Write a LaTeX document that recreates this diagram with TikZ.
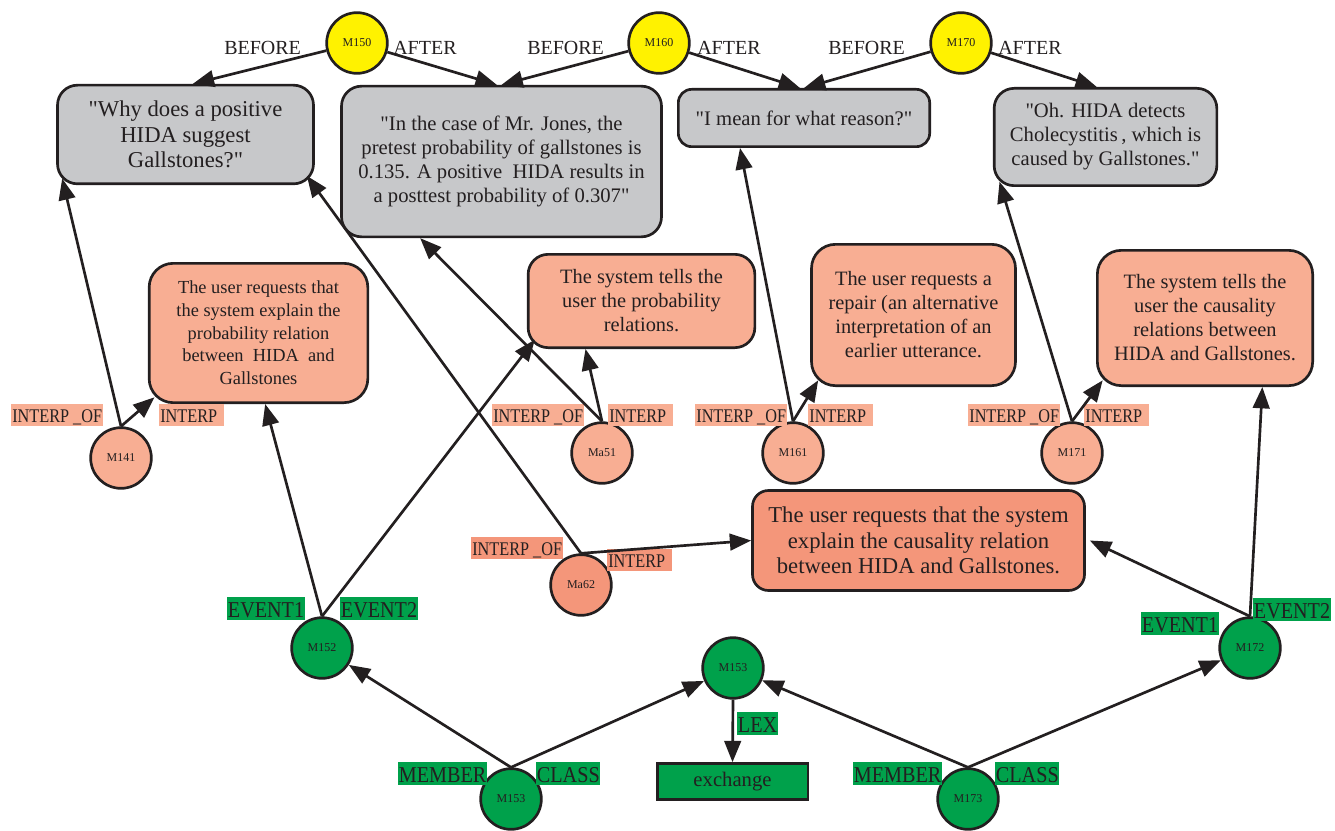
\documentclass[tikz,border=0pt]{standalone}
\usepackage{fontspec}
\setmainfont{Liberation Serif}
\newfontfamily\plainserif{Liberation Serif}
\newfontfamily\lblfont[FakeStretch=0.84]{Liberation Serif}
\newfontfamily\grnfont[FakeStretch=0.89]{Liberation Serif}
\usetikzlibrary{arrows.meta}
\definecolor{ink}{HTML}{231F20}
\definecolor{ygold}{HTML}{FFF200}
\definecolor{gbox}{HTML}{C7C8CA}
\definecolor{salmon}{HTML}{F8AE93}
\definecolor{dsalmon}{HTML}{F4967A}
\definecolor{grn}{HTML}{00A14B}
\begin{document}
\begin{tikzpicture}[x=0.75pt,y=-0.75pt,
  every node/.style={text=ink},
  box/.style={draw=ink, line width=2pt, rounded corners=15pt, align=center, inner sep=0pt},
  qbox/.style={box, fill=gbox, font=\plainserif\fontsize{15.5}{18}\selectfont},
  sbox/.style={box, fill=salmon, font=\fontsize{15.3}{18}\selectfont},
  circ/.style={circle, draw=ink, line width=2pt, minimum size=45.5pt, inner sep=0pt, font=\fontsize{9}{10}\selectfont},
  ycirc/.style={circ, fill=ygold},
  scirc/.style={circ, fill=salmon},
  dcirc/.style={circ, fill=dsalmon},
  gcirc/.style={circ, fill=grn},
  rel/.style={anchor=base west, inner sep=0pt, font=\fontsize{15}{18}\selectfont},
  ilab/.style={anchor=base west, fill=salmon, inner xsep=0.8pt, inner ysep=0pt, text height=13.5pt, text depth=3pt, font=\lblfont\fontsize{14.5}{16}\selectfont},
  dlab/.style={ilab, fill=dsalmon},
  glab/.style={anchor=base west, fill=grn, inner xsep=0.5pt, inner ysep=0pt, text height=15pt, text depth=2.3pt, font=\grnfont\fontsize{17}{19}\selectfont},
  arr/.style={draw=ink, line width=2pt, -{Triangle[length=16pt,width=12.5pt]}}
]
\fill[white] (0,0) rectangle (1335,831);
\useasboundingbox (0,0) rectangle (1335,831);

% gray utterance boxes
\node[qbox, font=\plainserif\fontsize{17}{19}\selectfont, minimum width=192pt, minimum height=74pt] (Q1) at (185.5,134.5)
  {"Why does a positive\\HIDA suggest\\Gallstones?"};
\node[qbox, minimum width=240pt, minimum height=113pt] (Q2) at (501.5,161.5)
  {"In the case of Mr. Jones, the\\pretest probability of gallstones is\\0.135. A positive~ HIDA results in\\a posttest probability of 0.307"};
\node[qbox, rounded corners=10pt, minimum width=188.5pt, minimum height=43pt] (Q3) at (804,118)
  {"I mean for what reason?"};
\node[qbox, minimum width=167pt, minimum height=73pt] (Q4) at (1105.5,137)
  {"Oh. HIDA detects\\Cholecystitis\,, which is\\caused by Gallstones."};

% salmon interpretation boxes
\node[sbox, rounded corners=18pt, font=\fontsize{13.8}{17}\selectfont, minimum width=164pt, minimum height=104.5pt] (A) at (258.5,333)
  {The user requests that\\the system explain the\\probability relation\\between~ HIDA~ and\\Gallstones};
\node[sbox, minimum width=170pt, minimum height=70pt] (B) at (641.5,301)
  {The system tells the\\user the probability\\relations.};
\node[sbox, rounded corners=18pt, minimum width=153pt, minimum height=106pt] (C) at (913.5,315)
  {The user requests a\\repair (an alternative\\interpretation of an\\earlier utterance.};
\node[sbox, rounded corners=18pt, minimum width=161.5pt, minimum height=101.5pt] (D) at (1205,318)
  {The system tells the\\user the causality\\relations between\\HIDA and Gallstones.};
\node[box, fill=dsalmon, rounded corners=12pt, font=\fontsize{17}{19}\selectfont, minimum width=249pt, minimum height=75pt] (E) at (918.5,540.5)
  {The user requests that the system\\explain the causality relation\\between HIDA and Gallstones.};

% lexical box
\node[draw=ink, line width=2pt, fill=grn, inner sep=0pt, minimum width=113pt, minimum height=27pt, font=\fontsize{15.5}{18}\selectfont] (X) at (732.5,781.5) {exchange};

% circles
\node[ycirc] (M150) at (357,43) {M150};
\node[ycirc] (M160) at (659,43) {M160};
\node[ycirc] (M170) at (961,43) {M170};
\node[scirc] (M141) at (121,458) {M141};
\node[scirc] (Ma51) at (602,453) {Ma51};
\node[scirc] (M161) at (793,453) {M161};
\node[scirc] (M171) at (1072,453) {M171};
\node[dcirc] (Ma62) at (581,585) {Ma62};
\node[gcirc] (M152) at (322,648) {M152};
\node[gcirc] (M153) at (733,668) {M153};
\node[gcirc] (M172) at (1250,648) {M172};
\node[gcirc] (M153b) at (511,799) {M153};
\node[gcirc] (M173) at (968,799) {M173};

% relation labels
\node[rel] (b1) at (224,55) {BEFORE};
\node[rel] (a1) at (393,55) {AFTER};
\node[rel] (b2) at (527,55) {BEFORE};
\node[rel] (a2) at (697,55) {AFTER};
\node[rel] (b3) at (828,55) {BEFORE};
\node[rel] (a3) at (998,55) {AFTER};

\node[ilab] (l1) at (11,422) {INTERP \_OF};
\node[ilab] (l2) at (159,422) {INTERP\kern4pt};
\node[ilab] (l3) at (492,422) {INTERP \_OF};
\node[ilab] (l4) at (608,422) {INTERP\kern4pt};
\node[ilab] (l5) at (695,422) {INTERP \_OF};
\node[ilab] (l6) at (808,422) {INTERP\kern4pt};
\node[ilab] (l7) at (968,422) {INTERP \_OF};
\node[ilab] (l8) at (1084,422) {INTERP\kern4pt};
\node[dlab] (l9) at (471,555) {INTERP \_OF};
\node[dlab] (l10) at (607,567) {INTERP\kern4pt};

\node[glab] (g1) at (227,617) {EVENT1};
\node[glab] (g2) at (340,617) {EVENT2};
\node[glab] (g3) at (398,782) {MEMBER};
\node[glab] (g4) at (536,782) {CLASS};
\node[glab] (g5) at (853,782) {MEMBER};
\node[glab] (g6) at (995,782) {CLASS};
\node[glab] (g7) at (1141,632) {EVENT1};
\node[glab] (g8) at (1253,618) {EVENT2};
\node[glab] (g9) at (737,732) {LEX};

% connectors
\draw[arr] (M150) -- ([xshift=5.5pt]Q1.north);
\draw[arr] (M150) -- ([xshift=-3.5pt]Q2.north);
\draw[arr] (M160) -- (Q2.north);
\draw[arr] (M160) -- ([xshift=-3pt]Q3.north);
\draw[arr] (M170) -- (Q3.north);
\draw[arr] (M170) -- ([xshift=-6.5pt]Q4.north);

\draw[arr] (M141.north) -- ([xshift=4.5pt,yshift=5pt]Q1.south west);
\draw[arr] (M141.north) -- ([xshift=5pt,yshift=5pt]A.south west);
\draw[arr] (Ma51.north) -- ([xshift=-61pt]Q2.south);
\draw[arr] (Ma51.north) -- ([xshift=-42pt]B.south);
\draw[arr] (M161.north) -- ([xshift=-48pt]Q3.south);
\draw[arr] (M161.north) -- ([xshift=6pt,yshift=5pt]C.south west);
\draw[arr] (M171.north) -- ([xshift=5pt,yshift=4pt]Q4.south west);
\draw[arr] (M171.north) -- ([xshift=5pt,yshift=5pt]D.south west);
\draw[arr] (Ma62.north) -- ([xshift=-6pt,yshift=7pt]Q1.south east);
\draw[arr] (Ma62.north) -- (E.west);

\draw[arr] (M152.north) -- ([xshift=5pt]A.south);
\draw[arr] (M152.north) -- ([xshift=6pt,yshift=7pt]B.south west);
\draw[arr] (M153b.north) -- (M152);
\draw[arr] (M153b.north) -- (M153);
\draw[arr] (M153.south) -- (X.north);
\draw[arr] (M173.north) -- (M153);
\draw[arr] (M173.north) -- (M172);
\draw[arr] (M172.north) -- ([xshift=3pt]E.east);
\draw[arr] (M172.north) -- ([xshift=43pt]D.south);
\end{tikzpicture}
\end{document}
